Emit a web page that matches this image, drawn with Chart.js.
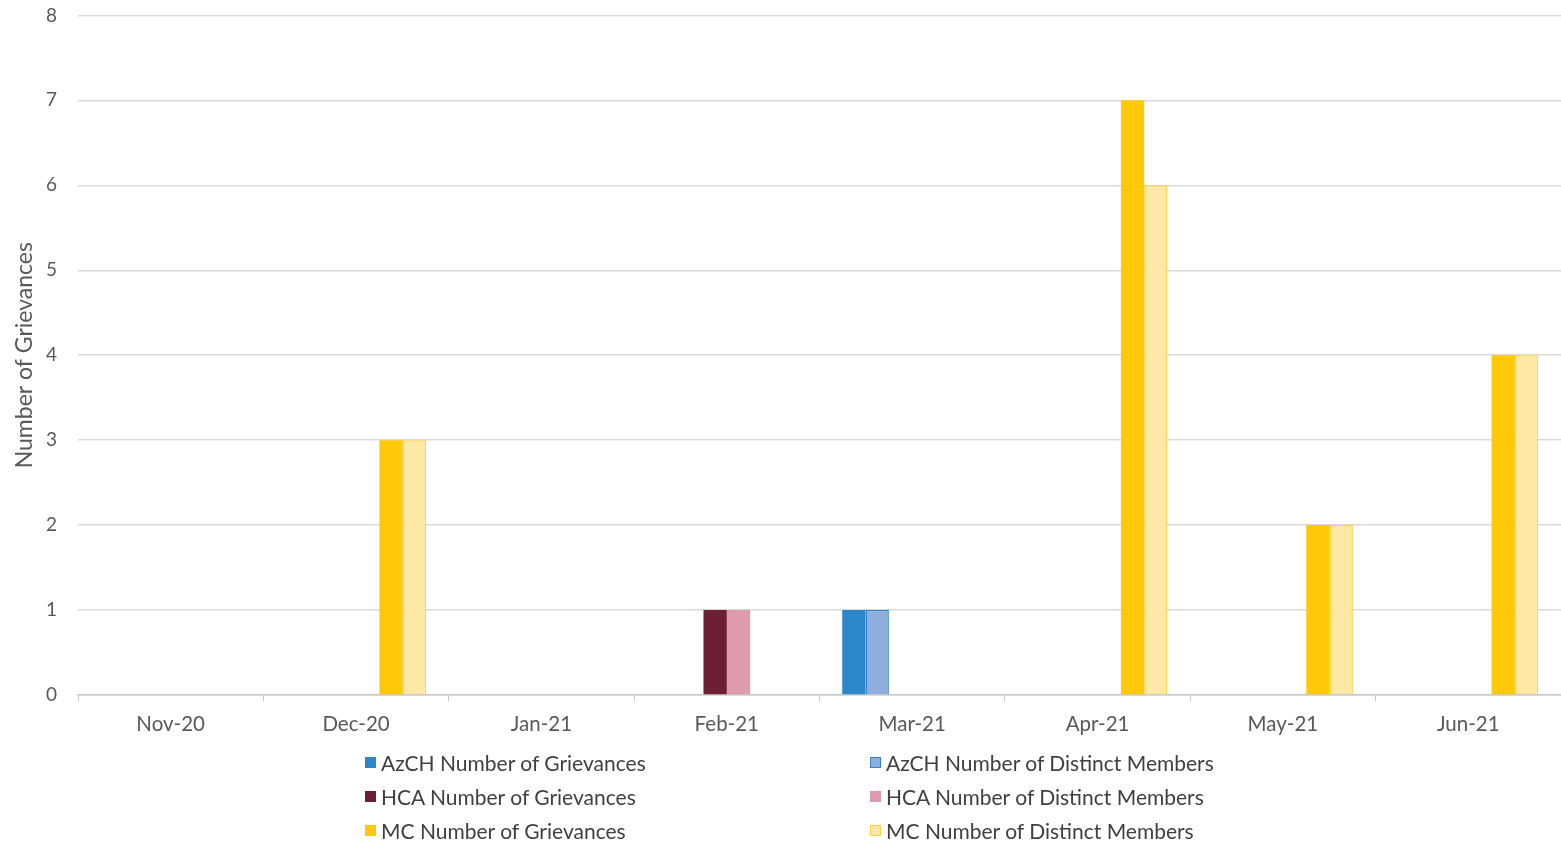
<!DOCTYPE html>
<html>
<head>
<meta charset="utf-8">
<script src="https://cdn.jsdelivr.net/npm/chart.js@4.4.1/dist/chart.umd.min.js"></script>
<style>
  html, body { margin: 0; padding: 0; background: #fff; }
  #wrap { position: relative; width: 1561px; height: 843px; overflow: hidden; }
  #box { position: absolute; left: 0; top: -17px; width: 1561px; height: 765px; }
  #legend { position: absolute; left: 365px; top: 745px; display: grid;
            grid-template-columns: 505px 420px; row-gap: 0; font-family: Lato, sans-serif;
            font-size: 21px; color: #404040; }
  .item { display: flex; align-items: center; height: 34px; white-space: nowrap; }
  .sw { width: 11px; height: 11px; box-sizing: border-box; margin-right: 5px; }
</style>
</head>
<body>
<div id="wrap">
  <div id="box"><canvas id="c"></canvas></div>
  <div id="legend"></div>
</div>
<script>
const categories = ['Nov-20', 'Dec-20', 'Jan-21', 'Feb-21', 'Mar-21', 'Apr-21', 'May-21', 'Jun-21'];
const azchGrievances = [0, 0, 0, 0, 1, 0, 0, 0];
const azchMembers    = [0, 0, 0, 0, 1, 0, 0, 0];
const hcaGrievances  = [0, 0, 0, 1, 0, 0, 0, 0];
const hcaMembers     = [0, 0, 0, 1, 0, 0, 0, 0];
const mcGrievances   = [0, 3, 0, 0, 0, 7, 2, 4];
const mcMembers      = [0, 3, 0, 0, 0, 6, 2, 4];
const yTicks = [0, 1, 2, 3, 4, 5, 6, 7, 8];

const FONT = 'Lato, sans-serif';

const datasets = [
  { label: 'AzCH Number of Grievances', data: azchGrievances, backgroundColor: '#2E86CA', borderColor: '#2E86CA', borderWidth: 0 },
  { label: 'AzCH Number of Distinct Members', data: azchMembers, backgroundColor: '#8FAEDC', borderColor: '#2E86CA', borderWidth: 1.5 },
  { label: 'HCA Number of Grievances', data: hcaGrievances, backgroundColor: '#6C1F37', borderColor: '#6C1F37', borderWidth: 0 },
  { label: 'HCA Number of Distinct Members', data: hcaMembers, backgroundColor: '#DE9BAE', borderColor: '#DE9BAE', borderWidth: 0 },
  { label: 'MC Number of Grievances', data: mcGrievances, backgroundColor: '#FFC90A', borderColor: '#FFC90A', borderWidth: 0 },
  { label: 'MC Number of Distinct Members', data: mcMembers, backgroundColor: '#FFE8A6', borderColor: '#FFD44A', borderWidth: 1.5 }
];

const chart = new Chart(document.getElementById('c'), {
  type: 'bar',
  data: { labels: categories, datasets: datasets },
  options: {
    responsive: true,
    maintainAspectRatio: false,
    animation: false,
    layout: { padding: { top: 15, right: 0, bottom: 0, left: 0 } },
    datasets: { bar: { barPercentage: 1.0, categoryPercentage: 0.755, borderSkipped: 'start' } },
    plugins: {
      legend: { display: false },
      tooltip: { enabled: false }
    },
    scales: {
      x: {
        grid: { display: true, drawOnChartArea: false, drawTicks: true, tickLength: 6, color: '#c8c8c8', offset: true },
        border: { display: true, color: '#c8c8c8', width: 1.5 },
        ticks: { color: '#595959', font: { family: FONT, size: 20.5 }, padding: 11, maxRotation: 0 },
        afterFit: (s) => { s.height = 53; }
      },
      y: {
        min: 0, max: 8,
        afterBuildTicks: (s) => { s.ticks = yTicks.map(v => ({ value: v })); },
        grid: { color: '#d9d9d9', lineWidth: 1.5, drawTicks: false },
        border: { display: false },
        ticks: { color: '#595959', font: { family: FONT, size: 19 }, padding: 21 },
        title: { display: true, text: 'Number of Grievances', color: '#595959', font: { family: FONT, size: 23 }, padding: { top: 11, bottom: 0 } },
        afterFit: (s) => { s.width = 78; }
      }
    }
  }
});

// HTML legend built from the chart's datasets (two columns, three rows)
const legend = document.getElementById('legend');
chart.data.datasets.forEach((ds) => {
  const item = document.createElement('div');
  item.className = 'item';
  const sw = document.createElement('span');
  sw.className = 'sw';
  sw.style.background = ds.backgroundColor;
  if (ds.borderWidth) sw.style.border = '1.5px solid ' + ds.borderColor;
  const tx = document.createElement('span');
  tx.textContent = ds.label;
  item.appendChild(sw);
  item.appendChild(tx);
  legend.appendChild(item);
});
</script>
</body>
</html>
